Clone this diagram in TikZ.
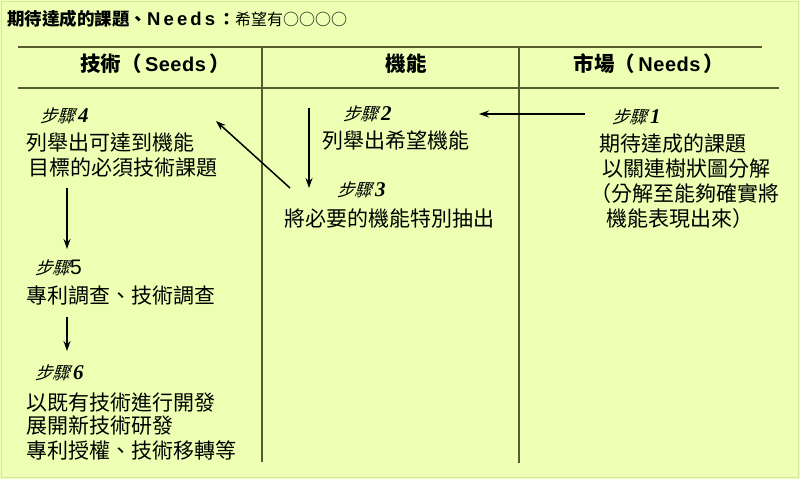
\documentclass[tikz,border=0pt]{standalone}
\usepackage{fontspec}
\setmainfont{Liberation Sans}
\newfontfamily\cjk{Noto Sans CJK TC}
\newfontfamily\cjksl[FakeSlant=0.3]{Noto Sans CJK TC}
\newfontfamily\numserif{Liberation Serif}
\usetikzlibrary{arrows.meta}
\definecolor{bgc}{RGB}{236,255,178}
\definecolor{linec}{RGB}{88,90,48}
\definecolor{framec}{RGB}{214,230,160}
\tikzset{
  txt/.style={anchor=base west,inner sep=0pt,font=\cjk\fontsize{21}{25}\selectfont},
  steplab/.style={anchor=base west,inner sep=0pt,font=\cjksl\fontsize{17.5}{20}\selectfont},
  head/.style={anchor=base,inner sep=0pt,font=\cjk\bfseries\fontsize{20.5}{24}\selectfont},
  rule/.style={draw=linec,line width=2pt},
  flow/.style={draw=black,line width=1.5pt,-{Stealth[length=10pt,width=7pt]}}
}
\newcommand{\stepno}[1]{{\numserif\itshape\bfseries\fontsize{21}{22}\selectfont #1}}
\newcommand{\wide}[1]{{\rmfamily\fontsize{20}{24}\selectfont #1}}
\begin{document}
\begin{tikzpicture}[x=1pt,y=-1pt]
\fill[bgc] (0,0) rectangle (800,479);
\draw[framec,line width=1pt] (1,1) rectangle (798,477);
\useasboundingbox (0,0) rectangle (800,479);
% title
\node[anchor=base west,inner sep=0pt] (title) at (7,25.5)
  {{\cjk\bfseries\fontsize{17.5}{20}\selectfont 期待達成的課題、}{\bfseries\fontsize{18.5}{20}\selectfont N\,e\,e\,d\,s\,}{\cjk\bfseries\fontsize{17}{20}\selectfont ：}{\cjk\fontsize{16}{18}\selectfont 希望有○○○○}};
% table rules
\draw[rule] (18,47) -- (762,47);
\draw[rule] (18,88) -- (779,88);
\draw[rule] (262,47) -- (262,462);
\draw[rule] (519,47) -- (519,463);
% headers
\node[head] (h1) at (155,71) {技術（\,\wide{S\kern.5pt e\kern.5pt e\kern.5pt d\kern.5pt s}\,）};
\node[head] (h2) at (406,71) {機能};
\node[head] (h3) at (649,71) {市場（\,\wide{N\kern.5pt e\kern.5pt e\kern.5pt d\kern.5pt s}\,）};
% step 4
\node[steplab] (s4lab) at (40,122.5) {步驟\,\stepno{4}};
\node[txt] (s4a) at (26,150) {列舉出可達到機能};
\node[txt] (s4b) at (28,175) {目標的必須技術課題};
% step 2
\node[steplab] (s2lab) at (343,120.5) {步驟\,\stepno{2}};
\node[txt] (s2a) at (322,148) {列舉出希望機能};
% step 3
\node[steplab] (s3lab) at (337,196.5) {步驟\,\stepno{3}};
\node[txt] (s3a) at (284,226) {將必要的機能特別抽出};
% step 1
\node[steplab] (s1lab) at (612,123.5) {步驟\,\stepno{1}};
\node[txt] (s1a) at (599,151) {期待達成的課題};
\node[txt] (s1b) at (602,176) {以關連樹狀圖分解};
\node[txt] (s1c) at (590,201) {（分解至能夠確實將};
\node[txt] (s1d) at (606,226) {機能表現出來）};
% step 5
\node[steplab] (s5lab) at (35,274.5) {步驟{\rmfamily\fontsize{21}{22}\selectfont 5}};
\node[txt] (s5a) at (26,303) {專利調查、技術調查};
% step 6
\node[steplab] (s6lab) at (35,379.5) {步驟\,\stepno{6}};
\node[txt] (s6a) at (26,410) {以既有技術進行開發};
\node[txt] (s6b) at (26,433) {展開新技術研發};
\node[txt] (s6c) at (26,458) {專利授權、技術移轉等};
% arrow end points
\coordinate (p1) at (585,114);
\coordinate (p2) at (479,114);
\coordinate (p3) at (309,108);
\coordinate (p4) at (309,188);
\coordinate (p5) at (290,188);
\coordinate (p6) at (216,121);
\coordinate (p7) at (67,188);
\coordinate (p8) at (67,249);
\coordinate (p9) at (67,317);
\coordinate (p10) at (67,351);
\draw[flow] (p1) -- (p2);
\draw[flow] (p3) -- (p4);
\draw[flow] (p5) -- (p6);
\draw[flow] (p7) -- (p8);
\draw[flow] (p9) -- (p10);
\end{tikzpicture}
\end{document}
